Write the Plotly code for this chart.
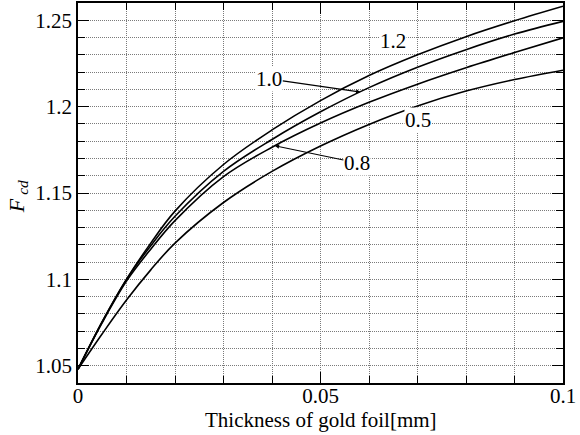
import plotly.graph_objects as go

# Foil thickness [mm] and correction factor F_cd for each curve
thickness = [0, 0.005, 0.01, 0.015, 0.02, 0.03, 0.04, 0.05, 0.06, 0.07, 0.08, 0.09, 0.1]
fcd_12 = [1.048, 1.0755, 1.100, 1.121, 1.1395, 1.1665, 1.1865, 1.2035, 1.2180, 1.2300, 1.2405, 1.2497, 1.2581]
fcd_10 = [1.048, 1.0755, 1.100, 1.1195, 1.1365, 1.1625, 1.1810, 1.1970, 1.2110, 1.2228, 1.2330, 1.2420, 1.2494]
fcd_08 = [1.048, 1.075, 1.099, 1.1175, 1.134, 1.1595, 1.1765, 1.1905, 1.2025, 1.2130, 1.2225, 1.2313, 1.2398]
fcd_05 = [1.048, 1.0685, 1.088, 1.1055, 1.121, 1.1445, 1.1625, 1.1772, 1.1897, 1.2004, 1.2090, 1.2157, 1.2211]

series = [("1.2", fcd_12), ("1.0", fcd_10), ("0.8", fcd_08), ("0.5", fcd_05)]

x_ticks = [0, 0.05, 0.1]
x_ticktext = ["0", "0.05", "0.1"]
y_ticks = [1.05, 1.1, 1.15, 1.2, 1.25]
y_ticktext = ["1.05", "1.1", "1.15", "1.2", "1.25"]

SERIF = "Liberation Serif"
GRID = dict(showgrid=True, gridcolor="#7a7a7a", gridwidth=1, griddash="1px,1px")

fig = go.Figure()
for name, vals in series:
    fig.add_trace(go.Scatter(
        x=thickness, y=vals, mode="lines", name=name,
        line=dict(color="black", width=1.6, shape="spline", smoothing=1.0),
        showlegend=False, hoverinfo="skip",
    ))

def interp(xs, ys, x):
    for i in range(len(xs) - 1):
        if xs[i] <= x <= xs[i + 1]:
            t = (x - xs[i]) / (xs[i + 1] - xs[i])
            return ys[i] + t * (ys[i + 1] - ys[i])
    return ys[-1]

label_font = dict(family=SERIF, size=21, color="black")
x10 = 0.0582
x08 = 0.0406
annotations = [
    dict(x=0.0649, y=1.238, xref="x", yref="y", text="1.2", showarrow=False,
         font=label_font, bgcolor="white", borderpad=0),
    dict(x=0.0701, y=1.1921, xref="x", yref="y", text="0.5", showarrow=False,
         font=label_font, bgcolor="white", borderpad=0),
    dict(x=x10, y=interp(thickness, fcd_10, x10), xref="x", yref="y", text="1.0",
         showarrow=True, ax=-91, ay=-13, arrowhead=2, arrowsize=0.7, arrowwidth=1.2,
         arrowcolor="black", font=label_font, bgcolor="white", borderpad=0),
    dict(x=x08, y=interp(thickness, fcd_08, x08), xref="x", yref="y", text="0.8",
         showarrow=True, ax=82, ay=17, arrowhead=2, arrowsize=0.7, arrowwidth=1.2,
         arrowcolor="black", font=label_font, bgcolor="white", borderpad=0),
    # y-axis title
    dict(x=-0.125, y=0.49, xref="paper", yref="paper", textangle=-90,
         xanchor="center", yanchor="middle",
         text="<i>F</i><sub> <i>cd</i></sub>", showarrow=False,
         font=dict(family=SERIF, size=22, color="black")),
    # x-axis title
    dict(x=0.5, y=-0.098, xref="paper", yref="paper",
         xanchor="center", yanchor="middle",
         text="Thickness of gold foil[mm]", showarrow=False,
         font=dict(family=SERIF, size=21, color="black")),
]

axis_common = dict(
    showline=True, linecolor="black", linewidth=1.8, mirror="allticks",
    ticks="inside", ticklen=11, tickwidth=1.4, tickcolor="black",
    zeroline=False,
    tickfont=dict(family=SERIF, size=21, color="black"),
    **GRID,
)
minor_common = dict(dtick=0.01, ticks="inside", ticklen=7, tickwidth=1.2,
                    tickcolor="black", **GRID)

fig.update_xaxes(
    range=[0, 0.1], tickmode="array", tickvals=x_ticks, ticktext=x_ticktext,
    minor=minor_common,
    ticklabelstandoff=-7,
    **axis_common,
)
fig.update_yaxes(
    range=[1.04, 1.26], tickmode="array", tickvals=y_ticks, ticktext=y_ticktext,
    minor=dict(tick0=1.04, **minor_common),
    **axis_common,
)

fig.update_layout(
    width=580, height=435,
    margin=dict(l=78, r=17, t=3, b=52, autoexpand=False),
    paper_bgcolor="white", plot_bgcolor="white",
    annotations=annotations,
)

fig.write_html("out.html")
